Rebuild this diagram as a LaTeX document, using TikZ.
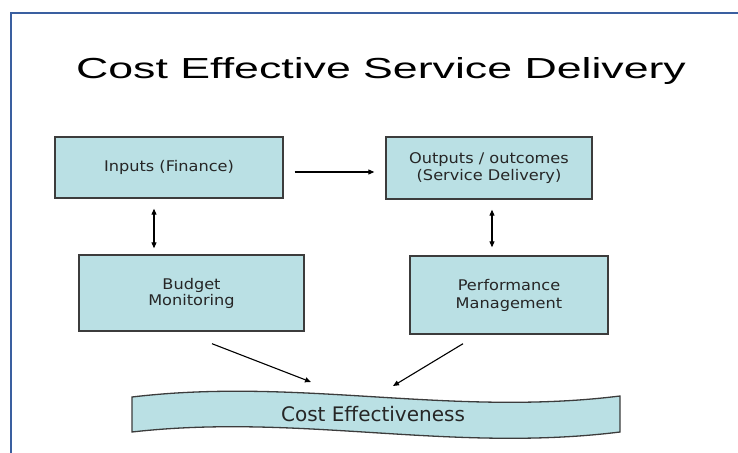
\documentclass[tikz,border=0pt]{standalone}
\usepackage{fontspec}
\usetikzlibrary{arrows.meta}
\newfontfamily\titlefont[FakeStretch=1.54]{Liberation Sans}
\newfontfamily\boxfont[FakeStretch=1.1]{DejaVu Sans}
\newfontfamily\bannerfont{DejaVu Sans}
\definecolor{boxfill}{RGB}{186,224,228}
\definecolor{boxline}{RGB}{60,60,60}
\definecolor{framblue}{RGB}{58,95,160}
\tikzset{
  flowbox/.style={draw=boxline, line width=1.4pt, fill=boxfill, inner sep=0pt,
    align=center, text=black!85, font=\boxfont\fontsize{14.7}{17}\selectfont},
  conn/.style={line width=1.1pt, -{Triangle[length=6pt,width=5pt]}},
  dconn/.style={line width=1.1pt, {Triangle[length=6pt,width=5pt]}-{Triangle[length=6pt,width=5pt]}},
}
\begin{document}
\begin{tikzpicture}[x=1pt,y=-1pt]
\useasboundingbox (0,0) rectangle (738,452);
% frame
\draw[framblue, line width=2.6pt] (11,460) -- (11,13) -- (745,13);
% title
\node[anchor=base, inner sep=0pt, font=\titlefont\fontsize{29}{35}\selectfont] (title) at (381,78) {Cost Effective Service Delivery};
% boxes
\node[flowbox, minimum width=228pt, minimum height=61pt] (inputs) at (169,167.5) {Inputs (Finance)};
\node[flowbox, minimum width=206pt, minimum height=62pt] (outputs) at (489,168) {Outputs / outcomes\\(Service Delivery)};
\node[flowbox, minimum width=225pt, minimum height=76pt, font=\boxfont\fontsize{14.7}{16}\selectfont] (budget) at (191.5,293) {Budget\\Monitoring};
\node[flowbox, minimum width=198pt, minimum height=78pt, font=\boxfont\fontsize{14.7}{18}\selectfont] (perf) at (509,295) {Performance\\Management};
% banner
\draw[draw=boxline, line width=1.3pt, fill=boxfill]
  (132,397) .. controls (300,377) and (450,417) .. (620,396)
  -- (620,432) .. controls (450,453) and (300,413) .. (132,432) -- cycle;
\node[inner sep=0pt, font=\bannerfont\fontsize{20}{24}\selectfont, text=black!85] (ce) at (373,414.5) {Cost Effectiveness};
\coordinate (ceL) at (311,382);
\coordinate (ceR) at (393,386);
% connectors
\draw[conn, shorten <=11pt, shorten >=11pt] ([yshift=-4.5pt]inputs.east) -- ([yshift=-4pt]outputs.west);
\draw[dconn, shorten <=10pt, shorten >=6pt] ([xshift=-15pt]inputs.south) -- ([xshift=-15pt]inputs.south |- budget.north);
\draw[dconn, shorten <=10pt, shorten >=8pt] ([xshift=3pt]outputs.south) -- ([xshift=3pt]outputs.south |- perf.north);
\draw[conn] ([xshift=20.5pt,yshift=-12pt]budget.south) -- (ceL);
\draw[conn] ([xshift=-46pt,yshift=-9pt]perf.south) -- (ceR);
\end{tikzpicture}
\end{document}
